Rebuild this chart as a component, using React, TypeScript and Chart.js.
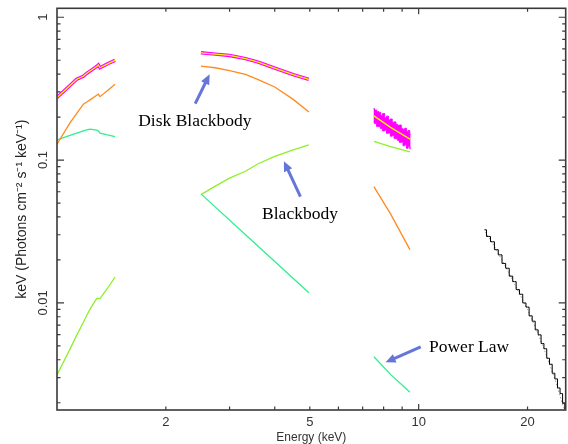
import React, { useEffect, useRef } from 'react';
import { Chart, registerables } from 'chart.js';

Chart.register(...registerables);

// ---------- Segment 1 (about 1.0 - 1.45 keV) ----------
const seg1Energy = [1.0, 1.086, 1.134, 1.183, 1.209, 1.234, 1.288, 1.301, 1.315, 1.38, 1.447];
const seg1Data = [0.274, 0.333, 0.368, 0.386, 0.405, 0.42, 0.452, 0.463, 0.443, 0.472, 0.499];
const seg1Disk = [0.129, 0.182, 0.212, 0.246, 0.255, 0.264, 0.284, 0.289, 0.278, 0.307, 0.339];
const seg1PowerLaw = [0.1386, 0.149, 0.1545, 0.16, 0.1625, 0.1647, 0.1618, 0.1602, 0.1545, 0.15, 0.1462];
const seg1Blackbody = [0.00313, 0.00475, 0.00595, 0.00733, 0.0082, 0.00904, 0.01074, 0.01074, 0.01072, 0.01267, 0.01518];

// ---------- Segment 2 (about 2.5 - 5 keV) ----------
const seg2Energy = [2.5, 2.74, 3.0, 3.32, 3.6, 4.0, 4.5, 4.97];
const seg2Data = [0.5636, 0.552, 0.54, 0.5135, 0.4854, 0.4406, 0.397, 0.3676];
const seg2Disk = [0.455, 0.443, 0.4235, 0.398, 0.366, 0.325, 0.266, 0.217];
const seg2Blackbody = [0.0573, 0.0657, 0.0747, 0.0835, 0.0943, 0.1063, 0.118, 0.128];
const seg2PowerLawEnergy = [2.5, 3.5, 4.97];
const seg2PowerLaw = [0.058, 0.0266, 0.0118];

// ---------- Segment 3 (about 7.5 - 9.5 keV) ----------
const seg3Energy = [7.52, 8.36, 9.46];
const seg3Model = [0.204, 0.1695, 0.14];
const seg3Blackbody = [0.135, 0.124, 0.1143];
const seg3Disk = [0.0652, 0.042, 0.0236];
const seg3PowerLaw = [0.0042, 0.00316, 0.00237];
const seg3BinEnergy = [7.5, 7.6, 7.7, 7.8, 7.9, 8.0, 8.1, 8.2, 8.3, 8.4, 8.5, 8.6, 8.7, 8.8, 8.9, 9.0, 9.1, 9.2, 9.3, 9.4, 9.5];
const seg3Upper = [0.229, 0.224, 0.219, 0.216, 0.206, 0.212, 0.198, 0.203, 0.191, 0.194, 0.184, 0.185, 0.178, 0.175, 0.176, 0.166, 0.164, 0.167, 0.158, 0.161, 0.152];
const seg3Lower = [0.184, 0.18, 0.172, 0.171, 0.166, 0.16, 0.162, 0.154, 0.155, 0.147, 0.149, 0.142, 0.141, 0.137, 0.133, 0.134, 0.126, 0.128, 0.121, 0.125, 0.12];

// ---------- Segment 4 (about 15 - 25.5 keV) ----------
const seg4BinEnergy = [15.2, 15.6, 16.0, 16.4, 16.8, 17.2, 17.6, 18.0, 18.4, 18.8, 19.2, 19.6, 20.0, 20.4, 20.8, 21.2, 21.6, 22.0, 22.4, 22.8, 23.2, 23.6, 24.0, 24.4, 24.8, 25.2, 25.5];
const seg4Data = [0.0325, 0.0292, 0.0268, 0.0236, 0.0217, 0.0189, 0.0175, 0.0154, 0.0141, 0.0124, 0.0115, 0.01, 0.00935, 0.00812, 0.00745, 0.00648, 0.00598, 0.0052, 0.00478, 0.0041, 0.00372, 0.00322, 0.00294, 0.00254, 0.00232, 0.00198, 0.0018];
const seg4ModelEnergy = [15.3, 16, 17, 18, 19, 20, 21, 22, 23, 24, 25, 25.5];
const seg4Model = [0.0314, 0.0262, 0.02, 0.0152, 0.0116, 0.009, 0.0068, 0.0051, 0.00375, 0.00275, 0.00195, 0.00172];

// ---------- Axes ----------
const xLabelTicks = [2, 5, 10, 20];
const yLabelTicks = [0.01, 0.1, 1];
const xMajorMarks = [10];
const xMinorMarks = [2, 3, 4, 5, 6, 7, 8, 9, 20];
const yMajorMarks = [0.01, 0.1, 1];
const yMinorMarks = [0.002, 0.003, 0.004, 0.005, 0.006, 0.007, 0.008, 0.009, 0.02, 0.03, 0.04, 0.05, 0.06, 0.07, 0.08, 0.09, 0.2, 0.3, 0.4, 0.5, 0.6, 0.7, 0.8, 0.9];

// ---------- Annotations (data coordinates) ----------
const labelTexts = ['Disk Blackbody', 'Blackbody', 'Power Law'];
const labelAt = [[1.677, 0.1737], [3.69, 0.0388], [10.68, 0.00451]];
const arrowFrom = [[2.411, 0.2484], [4.71, 0.0555], [10.13, 0.00493]];
const arrowTo = [[2.642, 0.3984], [4.24, 0.0982], [8.1, 0.00384]];

const MAGENTA = '#ff00ff';
const YELLOW = '#ffee00';
const ORANGE = '#ff8a1f';
const LIME = '#8ef02a';
const SPRING = '#2ef08e';
const ARROW = '#6476da';

const pts = (xs: number[], ys: number[]) => xs.map((x, i) => ({ x, y: ys[i] }));

const line = (data: any, color: string, width: number, order: number, extra: any = {}) => ({
  data,
  borderColor: color,
  backgroundColor: color,
  borderWidth: width,
  pointRadius: 0,
  tension: 0,
  fill: false,
  order,
  ...extra,
});

const framePlugin = {
  id: 'xspecFrame',
  afterDraw(chart: any) {
    const { ctx, chartArea: a, scales } = chart;
    const xs = scales.x;
    const ys = scales.y;
    ctx.save();
    ctx.strokeStyle = '#3a3a3a';
    ctx.lineWidth = 1.2;
    ctx.beginPath();
    const xMark = (v: number, len: number) => {
      const p = xs.getPixelForValue(v);
      ctx.moveTo(p, a.bottom);
      ctx.lineTo(p, a.bottom - len);
      ctx.moveTo(p, a.top);
      ctx.lineTo(p, a.top + len);
    };
    const yMark = (v: number, len: number) => {
      const p = ys.getPixelForValue(v);
      ctx.moveTo(a.left, p);
      ctx.lineTo(a.left + len, p);
      ctx.moveTo(a.right, p);
      ctx.lineTo(a.right - len, p);
    };
    xMajorMarks.forEach((v) => xMark(v, 6));
    xMinorMarks.forEach((v) => xMark(v, 3.5));
    yMajorMarks.forEach((v) => yMark(v, 7));
    yMinorMarks.forEach((v) => yMark(v, 3.5));
    ctx.stroke();
    ctx.lineWidth = 1.6;
    ctx.strokeRect(a.left, a.top, a.right - a.left, a.bottom - a.top);

    // arrows
    ctx.strokeStyle = ARROW;
    ctx.fillStyle = ARROW;
    for (let i = 0; i < arrowFrom.length; i++) {
      const x0 = xs.getPixelForValue(arrowFrom[i][0]);
      const y0 = ys.getPixelForValue(arrowFrom[i][1]);
      const x1 = xs.getPixelForValue(arrowTo[i][0]);
      const y1 = ys.getPixelForValue(arrowTo[i][1]);
      const len = Math.hypot(x1 - x0, y1 - y0);
      const ux = (x1 - x0) / len;
      const uy = (y1 - y0) / len;
      const head = 10;
      const half = 4.5;
      ctx.lineWidth = 3;
      ctx.lineCap = 'butt';
      ctx.beginPath();
      ctx.moveTo(x0, y0);
      ctx.lineTo(x1 - ux * head * 0.8, y1 - uy * head * 0.8);
      ctx.stroke();
      ctx.beginPath();
      ctx.moveTo(x1, y1);
      ctx.lineTo(x1 - ux * head - uy * half, y1 - uy * head + ux * half);
      ctx.lineTo(x1 - ux * head + uy * half, y1 - uy * head - ux * half);
      ctx.closePath();
      ctx.fill();
    }

    // labels
    ctx.fillStyle = '#000';
    ctx.font = '17.5px "Liberation Serif", "DejaVu Serif", serif';
    ctx.textAlign = 'left';
    ctx.textBaseline = 'alphabetic';
    for (let i = 0; i < labelTexts.length; i++) {
      ctx.fillText(labelTexts[i], xs.getPixelForValue(labelAt[i][0]), ys.getPixelForValue(labelAt[i][1]));
    }
    ctx.restore();
  },
};

export default function App() {
  const ref = useRef<HTMLCanvasElement | null>(null);

  useEffect(() => {
    if (!ref.current) return;
    const datasets: any[] = [
      // Segment 1
      line(pts(seg1Energy, seg1Data), MAGENTA, 3.4, 8),
      line(pts(seg1Energy, seg1Data), YELLOW, 1.3, 1),
      line(pts(seg1Energy, seg1Disk), ORANGE, 1.3, 3),
      line(pts(seg1Energy, seg1PowerLaw), SPRING, 1.3, 3),
      line(pts(seg1Energy, seg1Blackbody), LIME, 1.3, 3),
      // Segment 2
      line(pts(seg2Energy, seg2Data), MAGENTA, 3.4, 8),
      line(pts(seg2Energy, seg2Data), YELLOW, 1.3, 1),
      line(pts(seg2Energy, seg2Disk), ORANGE, 1.3, 3),
      line(pts(seg2Energy, seg2Blackbody), LIME, 1.3, 3),
      line(pts(seg2PowerLawEnergy, seg2PowerLaw), SPRING, 1.3, 3),
      // Segment 3
      line(pts(seg3BinEnergy, seg3Upper), MAGENTA, 1, 8, { stepped: 'middle', fill: '+1' }),
      line(pts(seg3BinEnergy, seg3Lower), MAGENTA, 1, 8, { stepped: 'middle' }),
      line(pts(seg3Energy, seg3Model), YELLOW, 1.4, 1),
      line(pts(seg3Energy, seg3Blackbody), LIME, 1.3, 3),
      line(pts(seg3Energy, seg3Disk), ORANGE, 1.3, 3),
      line(pts(seg3Energy, seg3PowerLaw), SPRING, 1.3, 3),
      // Segment 4
      line(pts(seg4ModelEnergy, seg4Model), '#9a9a9a', 1, 4, { borderDash: [1.5, 2] }),
      line(pts(seg4BinEnergy, seg4Data), '#000000', 1, 2, { stepped: 'middle' }),
    ];

    const tickFont = { family: '"Liberation Sans", Arial, sans-serif', size: 13 };

    const chart = new Chart(ref.current, {
      type: 'line',
      data: { datasets },
      plugins: [framePlugin],
      options: {
        responsive: false,
        animation: false,
        devicePixelRatio: 1,
        layout: { padding: { top: 6.7, right: 2.3, left: 0, bottom: 0 } },
        plugins: { legend: { display: false }, tooltip: { enabled: false } },
        scales: {
          x: {
            type: 'logarithmic',
            min: 1,
            max: 25.5,
            grid: { display: false, drawTicks: false },
            border: { display: false },
            afterBuildTicks: (s: any) => {
              s.ticks = xLabelTicks.map((v) => ({ value: v }));
            },
            afterFit: (s: any) => {
              s.height = 34;
            },
            ticks: {
              autoSkip: false,
              maxRotation: 0,
              minRotation: 0,
              padding: 4.5,
              color: '#333',
              font: tickFont,
              callback: (v: any) => String(v),
            },
            title: {
              display: true,
              text: 'Energy (keV)',
              color: '#333',
              font: { family: '"Liberation Sans", Arial, sans-serif', size: 12, lineHeight: 1 },
              padding: { top: 0, bottom: 0 },
            },
          },
          y: {
            type: 'logarithmic',
            min: 0.00178,
            max: 1.155,
            grid: { display: false, drawTicks: false },
            border: { display: false },
            afterBuildTicks: (s: any) => {
              s.ticks = yLabelTicks.map((v) => ({ value: v }));
            },
            afterFit: (s: any) => {
              s.width = 57;
            },
            ticks: {
              autoSkip: false,
              minRotation: 90,
              maxRotation: 90,
              crossAlign: 'center',
              padding: 0.5,
              color: '#333',
              font: tickFont,
              callback: (v: any) => String(v),
            },
            title: {
              display: true,
              text: 'keV (Photons cm⁻² s⁻¹ keV⁻¹)',
              color: '#222',
              font: { family: '"Liberation Sans", Arial, sans-serif', size: 14, lineHeight: 1.2 },
              padding: { top: 13.5, bottom: 0 },
            },
          },
        },
      } as any,
    });
    return () => chart.destroy();
  }, []);

  return (
    <div style={{ position: 'fixed', left: 0, top: 0, width: 568, height: 444, background: '#fff' }}>
      <canvas ref={ref} width={568} height={444} style={{ display: 'block', width: 568, height: 444 }} />
    </div>
  );
}
